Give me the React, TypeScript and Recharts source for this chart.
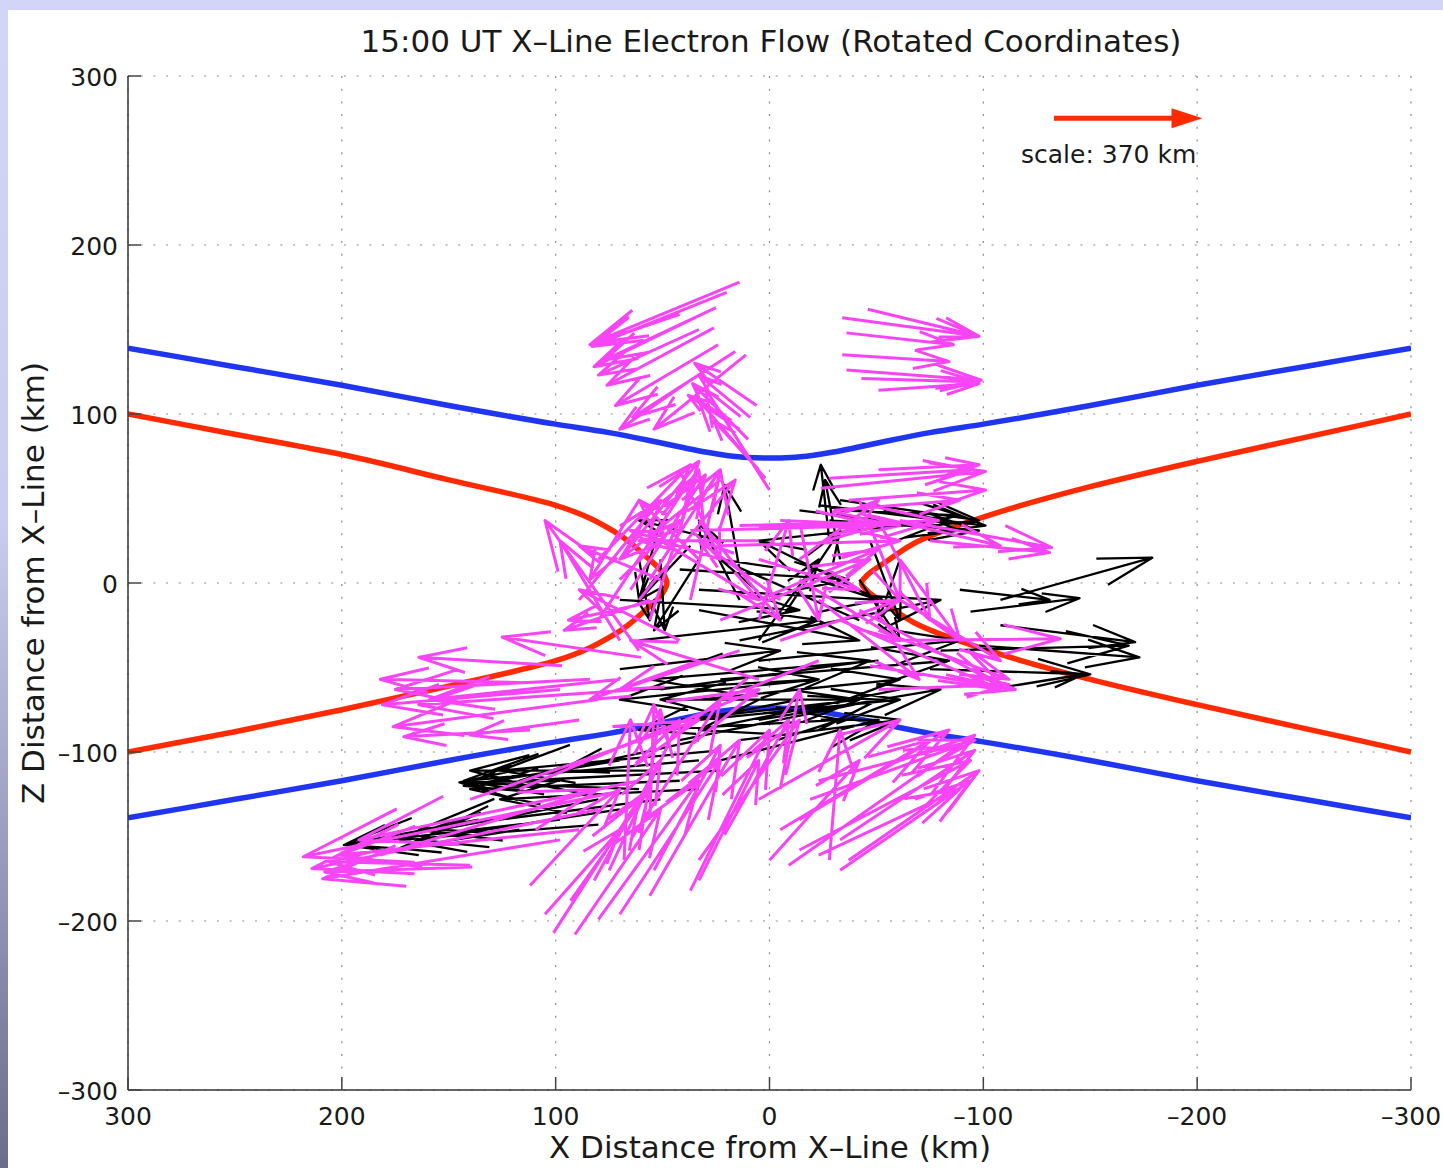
import React from "react";
import {
  ComposedChart,
  Line,
  Scatter,
  XAxis,
  YAxis,
  CartesianGrid,
  ReferenceDot,
  Customized
} from "recharts";

// arrows are [xTail, zTail, xTip, zTip] in km
type Arrow = [number, number, number, number];

const FONT = '"DejaVu Sans", "Liberation Sans", sans-serif';
const BLUE = "#1f35f0";
const RED = "#ff2a00";
const MAGENTA = "#f744f5";

const xTicks = [-300, -200, -100, 0, 100, 200, 300];
const zTicks = [-300, -200, -100, 0, 100, 200, 300];

// separatrix-like curves, [x, z]
const blueUpper: [number, number][] = [
  [-300, 139], [-250, 128], [-200, 117], [-150, 105], [-100, 94], [-75, 89], [-55, 84], [-40, 80],
  [-30, 77.5], [-20, 75.5], [-10, 74.3], [0, 74], [10, 74.3], [20, 75.5], [30, 77.5], [40, 80],
  [55, 84], [75, 89], [100, 94], [150, 105], [200, 117], [250, 128], [300, 139]
];
const blueLower: [number, number][] = [
  [-300, -139], [-250, -128], [-200, -117], [-150, -105], [-100, -94], [-75, -89], [-55, -84], [-40, -80],
  [-30, -77.5], [-20, -75.5], [-10, -74.3], [0, -74], [10, -74.3], [20, -75.5], [30, -77.5], [40, -80],
  [55, -84], [75, -89], [100, -94], [150, -105], [200, -117], [250, -128], [300, -139]
];
const redLeft: [number, number][] = [
  [300, -100], [250, -88], [200, -75], [150, -61], [100, -46], [72, -30], [58, -16], [50, -6],
  [48, 0], [50, 6], [58, 16], [72, 30], [100, 46], [150, 61], [200, 76], [250, 88], [300, 100]
];
const redRight: [number, number][] = [
  [-300, -100], [-250, -86], [-200, -72], [-150, -57], [-100, -39], [-70, -25], [-55, -13], [-46, -5],
  [-43, 0], [-46, 5], [-55, 13], [-70, 25], [-100, 39], [-150, 57], [-200, 72], [-250, 86], [-300, 100]
];

const magentaUpperLeft: Arrow[] = [
  [14, 178, 83, 142], [25, 163, 77, 132], [26, 151, 76, 117], [24, 141, 72, 105], [16, 137, 64, 98],
  [11, 135, 54, 91], [42, 159, 84, 141], [33, 150, 80, 123], [37, 120, 70, 91], [20, 172, 83, 140],
  [30, 160, 82, 128],
  [6, 105, 35, 130], [9, 98, 33, 123], [14, 91, 38, 111], [2, 62, 33, 108], [5, 67, 26, 96],
  [0, 55, 30, 115], [10, 85, 36, 118]
];
const magentaUpperRight: Arrow[] = [
  [-34, 157, -98, 146], [-46, 162, -98, 146], [-36, 148, -86, 141], [-34, 135, -84, 131],
  [-36, 126, -99, 120], [-43, 121, -98, 119], [-51, 114, -98, 118]
];
const magentaRightMid: Arrow[] = [
  [-24, 56, -101, 66], [-28, 62, -94, 67], [-51, 67, -98, 70], [-37, 49, -101, 55], [-30, 43, -89, 49],
  [-61, 37, -132, 21], [-75, 25, -131, 18], [-47, 40, -108, 22],
  [-56, -34, -136, -33], [-47, -49, -115, -63], [-51, -63, -112, -60],
  [-42, -16, -110, -62], [-51, -28, -112, -57], [-61, -10, -108, -46]
];
const magentaCenter: Arrow[] = [
  [33, 14, 61, 49], [23, 14, 65, 31], [5, 25, 61, 25], [37, -10, 23, 67], [56, -22, 33, 67],
  [80, -22, 37, 61], [70, -34, 98, 25], [61, -40, 105, 37], [51, -10, 94, -22], [42, -34, 89, -4],
  [-5, 37, -61, 34], [14, 34, -51, 36], [-14, 14, -51, 49], [5, -10, -51, 20], [23, -22, -47, 14],
  [-5, -34, -61, -10], [-14, 2, -61, -34], [-23, -10, -70, -57], [-33, -22, -108, -63], [5, -22, -9, 37],
  [33, 37, -5, -22], [51, 25, 5, -10], [14, -40, 70, -63], [33, -46, 84, -69], [5, -57, 65, -34],
  [-23, -46, 23, -69], [-42, 49, -61, -10], [-51, 37, -75, -22], [-61, 14, -89, -34], [61, 49, 84, 2],
  [23, 61, 70, 14], [42, 67, 23, 14], [5, 14, -42, -4], [70, 2, 42, 37], [-14, 37, -23, -22],
  [-5, -10, 33, 25], [70, 14, 33, 72], [56, 2, 23, 67],
  [80, 14, 37, 70], [65, -4, 30, 64], [89, -10, 51, 49], [61, -10, 16, 61],
  [37, 31, -51, 34], [23, 22, -61, 25], [5, 33, -79, 37],
  [56, -10, 96, -28], [51, 2, 89, 22]
];
const magentaLeft: Arrow[] = [
  [114, -59, 182, -57], [97, -49, 164, -44], [60, -44, 125, -32], [98, -63, 181, -72],
  [80, -69, 176, -85], [112, -87, 171, -91], [70, -57, 159, -69], [89, -81, 140, -90],
  [61, -63, 164, -72], [84, -57, 175, -63]
];
const magentaLowerLeft: Arrow[] = [
  [73, -124, 218, -162], [80, -134, 214, -169], [98, -152, 209, -175], [140, -167, 206, -165],
  [139, -168, 208, -171], [61, -117, 192, -152], [89, -146, 201, -161],
  [140, -128, 33, -81], [117, -122, 5, -63], [182, -161, 80, -122]
];
const magentaLower: Arrow[] = [
  [101, -207, 61, -128], [91, -208, 51, -134], [80, -199, 33, -117], [112, -179, 70, -122],
  [70, -196, 23, -105], [56, -185, 14, -93], [37, -182, 0, -87], [75, -170, 42, -81],
  [65, -152, 23, -69], [33, -164, -14, -81], [68, -164, 65, -81], [61, -158, 51, -75],
  [-9, -167, -96, -90], [-14, -158, -94, -105], [-23, -161, -89, -122], [-33, -152, -96, -99],
  [-5, -146, -75, -93], [5, -128, -61, -81], [-19, -128, -89, -96], [-33, -170, -94, -117],
  [-28, -164, -33, -87], [-5, -122, -14, -63],
  [105, -196, 70, -146], [93, -188, 56, -122], [82, -176, 51, -105], [54, -170, 23, -96],
  [33, -176, 5, -105], [21, -149, -9, -81], [0, -164, -42, -105], [-37, -164, -98, -111],
  [-14, -140, -84, -87], [-23, -117, -96, -93], [56, -140, 54, -72]
];

const blackLowerLeft: Arrow[] = [
  [136, -140, 199, -155], [80, -143, 173, -152], [61, -122, 145, -118], [33, -105, 143, -117],
  [51, -128, 164, -146], [98, -117, 143, -118], [33, -122, 126, -128], [23, -111, 117, -117],
  [56, -111, 140, -111], [80, -128, 154, -146],
  [70, -105, 143, -120], [42, -117, 140, -122], [98, -140, 199, -155], [117, -146, 173, -157],
  [70, -134, 164, -152], [23, -99, 126, -111], [33, -93, 98, -111]
];
const blackCenter: Arrow[] = [
  [-23, 46, -101, 34], [-28, 37, -98, 31], [-33, 43, -89, 40], [-28, 25, -24, 70], [-33, 14, -26, 61],
  [14, 8, 21, 58], [51, 14, 49, -28], [61, 14, 56, -22], [33, -4, -51, -10], [42, 8, -37, 2],
  [33, -16, -42, -34], [14, -34, -80, -10], [5, -46, -89, -34], [23, -57, -84, -46], [33, -69, -61, -57],
  [42, -81, -42, -69], [61, -63, -23, -57], [70, -51, -5, -40], [5, -81, -80, -63], [14, -93, -61, -81],
  [-14, -69, 61, -87], [-23, -57, 70, -69], [-42, -22, 23, 14], [-51, -10, 5, 25], [-61, 14, -51, -22],
  [-47, 25, -61, -22], [-5, -22, -33, 31], [5, -34, -23, 14], [14, -10, 33, 37], [23, 25, 61, 37],
  [51, -63, -47, -46], [42, -93, -51, -69], [33, -81, -61, -69], [23, -105, -51, -81], [56, -87, -33, -81],
  [-61, -63, 33, -87], [-42, -69, 51, -69], [-51, -46, 56, -57], [61, -34, -23, -22], [70, -10, -14, -16],
  [5, 25, -84, 37], [-14, 43, -89, 31], [-33, 49, -98, 37], [51, 37, 61, -10], [-42, 2, -61, -34],
  [33, 14, 54, -28], [37, 22, 61, -10]
];
const blackRight: Arrow[] = [
  [-108, -10, -179, 15], [-94, -17, -145, -9], [-108, -25, -171, -35], [-98, -37, -173, -44],
  [-103, -63, -147, -54], [-75, -51, -150, -54], [-80, -40, -168, -37], [-89, -4, -131, -10]
];

// reference arrow for the scale
const scaleShaft: [number, number][] = [[-133, 275], [-189, 275]];
const scaleTip: [number, number][] = [[-202.5, 275]];

type Pt = { x: number; z: number | null };

const toPts = (pairs: [number, number][]): Pt[] => pairs.map(([x, z]) => ({ x, z }));

// same arrow geometry as quiver: head = 0.33 of the vector, half width 0.33 of that
function quiverPts(arrows: Arrow[]): Pt[] {
  const a = 0.33;
  const b = 0.33;
  const out: Pt[] = [];
  arrows.forEach(([x0, z0, x1, z1]) => {
    const u = x1 - x0;
    const v = z1 - z0;
    out.push({ x: x0, z: z0 }, { x: x1, z: z1 }, { x: x1, z: null });
    out.push(
      { x: x1 - a * (u + b * v), z: z1 - a * (v - b * u) },
      { x: x1, z: z1 },
      { x: x1 - a * (u - b * v), z: z1 - a * (v + b * u) },
      { x: x1, z: null }
    );
  });
  return out;
}

const fmt = (v: number) => (v < 0 ? "\u2013" + Math.abs(v) : String(v));

const XTick = (props: any) => {
  const { x, y, payload } = props;
  return (
    <g>
      <line x1={x} y1={y} x2={x} y2={y - 13} stroke="#444" strokeWidth={1.5} />
      <text x={x} y={y + 35} textAnchor="middle" fontSize={25} fontFamily={FONT} fill="#1a1a1a">
        {fmt(payload.value)}
      </text>
    </g>
  );
};

const YTick = (props: any) => {
  const { x, y, payload } = props;
  return (
    <g>
      <line x1={x} y1={y} x2={x + 13} y2={y} stroke="#444" strokeWidth={1.5} />
      <text x={x - 10} y={y + 10} textAnchor="end" fontSize={25} fontFamily={FONT} fill="#1a1a1a">
        {fmt(payload.value)}
      </text>
    </g>
  );
};

const Titles = () => (
  <g fontFamily={FONT} fill="#1a1a1a">
    <text x={771} y={52} textAnchor="middle" fontSize={31}>
      15:00 UT X–Line Electron Flow (Rotated Coordinates)
    </text>
    <text x={770} y={1158} textAnchor="middle" fontSize={31}>
      X Distance from X–Line (km)
    </text>
    <text x={44} y={583} textAnchor="middle" fontSize={31} transform="rotate(-90 44 583)">
      Z Distance from X–Line (km)
    </text>
  </g>
);

const ScaleHead = (props: any) => {
  const { cx, cy } = props;
  return <polygon points={`${cx},${cy} ${cx - 31},${cy - 10} ${cx - 31},${cy + 10}`} fill={RED} />;
};

export default function App() {
  const magenta = quiverPts([
    ...magentaUpperLeft,
    ...magentaUpperRight,
    ...magentaRightMid,
    ...magentaLeft,
    ...magentaLowerLeft,
    ...magentaLower,
    ...magentaCenter
  ]);
  const black = quiverPts([...blackLowerLeft, ...blackCenter, ...blackRight]);

  return (
    <div
      style={{
        position: "absolute",
        left: 0,
        top: 0,
        width: 1443,
        height: 1168,
        background: "linear-gradient(to bottom, #d3d5f8 0%, #c9cbf0 45%, #6c6c8c 100%)",
        overflow: "hidden"
      }}
    >
      <div style={{ position: "absolute", left: 8, top: 10, right: 0, bottom: 0, background: "#ffffff" }} />
      <div style={{ position: "absolute", left: 0, top: 0 }}>
        <ComposedChart width={1443} height={1168} margin={{ top: 76, right: 32, bottom: 0, left: 0 }}>
          <CartesianGrid stroke="#8a8a8a" strokeDasharray="2 10.7" strokeWidth={1.2} />
          <XAxis
            type="number"
            dataKey="x"
            domain={[-300, 300]}
            ticks={xTicks}
            reversed
            allowDataOverflow
            interval={0}
            height={78}
            tickSize={0}
            tickMargin={0}
            tickLine={false}
            tick={XTick}
            axisLine={{ stroke: "#333", strokeWidth: 1.5 }}
          />
          <YAxis
            type="number"
            dataKey="z"
            domain={[-300, 300]}
            ticks={zTicks}
            allowDataOverflow
            interval={0}
            width={128}
            tickSize={0}
            tickMargin={0}
            tickLine={false}
            tick={YTick}
            axisLine={{ stroke: "#333", strokeWidth: 1.5 }}
          />
          <Line data={toPts(blueUpper)} dataKey="z" type="monotone" stroke={BLUE} strokeWidth={5.5} dot={false} activeDot={false} isAnimationActive={false} />
          <Line data={toPts(blueLower)} dataKey="z" type="monotone" stroke={BLUE} strokeWidth={5.5} dot={false} activeDot={false} isAnimationActive={false} />
          <Line data={toPts(redLeft)} dataKey="z" type="monotoneY" stroke={RED} strokeWidth={5.5} dot={false} activeDot={false} isAnimationActive={false} />
          <Line data={toPts(redRight)} dataKey="z" type="monotoneY" stroke={RED} strokeWidth={5.5} dot={false} activeDot={false} isAnimationActive={false} />
          <Line data={black} dataKey="z" type="linear" stroke="#000" strokeWidth={2.3} strokeLinejoin="round" dot={false} activeDot={false} connectNulls={false} isAnimationActive={false} />
          <Line data={magenta} dataKey="z" type="linear" stroke={MAGENTA} strokeWidth={3} strokeLinejoin="round" dot={false} activeDot={false} connectNulls={false} isAnimationActive={false} />
          <Line data={toPts(scaleShaft)} dataKey="z" type="linear" stroke={RED} strokeWidth={5} dot={false} activeDot={false} isAnimationActive={false} />
          <Scatter data={toPts(scaleTip)} dataKey="z" shape={ScaleHead} isAnimationActive={false} />
          <ReferenceDot
            x={-158.6}
            y={254}
            r={0}
            fill="none"
            stroke="none"
            ifOverflow="visible"
            label={{ value: "scale: 370 km", position: "center", fontSize: 25, fill: "#1a1a1a", fontFamily: FONT }}
          />
          <Customized component={Titles} />
        </ComposedChart>
      </div>
    </div>
  );
}
